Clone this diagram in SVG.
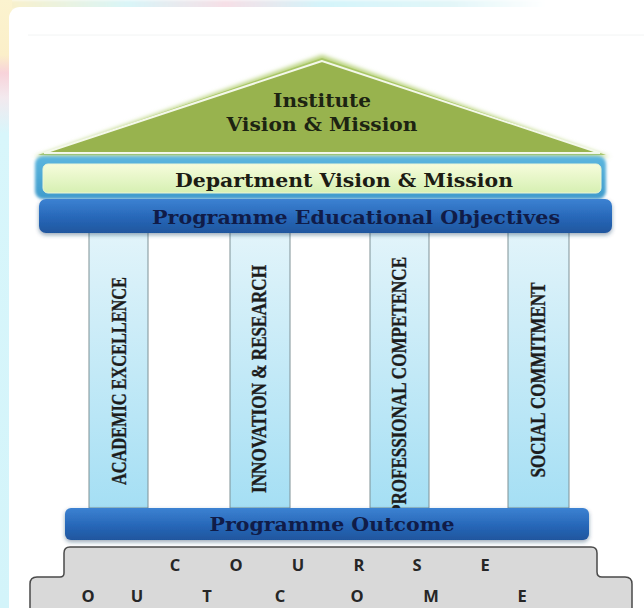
<svg xmlns="http://www.w3.org/2000/svg" width="644" height="608" viewBox="0 0 644 608">
<defs>
<style>
.serifb{font-family:"DejaVu Serif","Liberation Serif",serif;font-weight:bold;}
.pil{font-family:"Liberation Serif","DejaVu Serif",serif;font-weight:bold;font-size:20px;fill:#1c1c1c;stroke:#1c1c1c;stroke-width:0.35;}
.co{font-family:"Open Sans","Liberation Sans",sans-serif;font-weight:bold;font-size:16.5px;fill:#262626;text-anchor:middle;}
.pillar{fill:url(#pillarG);stroke:#7f9196;stroke-width:1;}
.bluebar{fill:url(#blueG);filter:url(#shadow);}
</style>
<linearGradient id="leftBg" x1="0" y1="0" x2="0" y2="1">
<stop offset="0" stop-color="#fbf3cf"/>
<stop offset="0.09" stop-color="#fbefc9"/>
<stop offset="0.12" stop-color="#f8d3da"/>
<stop offset="0.16" stop-color="#f3e9ee"/>
<stop offset="0.22" stop-color="#d8f6fb"/>
<stop offset="1" stop-color="#d3f4fa"/>
</linearGradient>
<linearGradient id="topBg" x1="0" y1="0" x2="1" y2="0">
<stop offset="0" stop-color="#fbf0c8"/>
<stop offset="0.2" stop-color="#d9f5f8"/>
<stop offset="0.35" stop-color="#f6dfe6"/>
<stop offset="0.5" stop-color="#d4f4fa"/>
<stop offset="0.7" stop-color="#e2f6f8"/>
<stop offset="0.85" stop-color="#ffffff"/>
<stop offset="1" stop-color="#ffffff"/>
</linearGradient>
<linearGradient id="lineG" x1="0" y1="0" x2="1" y2="0">
<stop offset="0" stop-color="#f6e3a4"/>
<stop offset="0.05" stop-color="#f6e3a4"/>
<stop offset="0.07" stop-color="#f4b8b8"/>
<stop offset="0.18" stop-color="#f4b8b8"/>
<stop offset="0.22" stop-color="#c8f0f8"/>
<stop offset="1" stop-color="#eef8fa"/>
</linearGradient>
<linearGradient id="pillarG" x1="0" y1="0" x2="0" y2="1">
<stop offset="0" stop-color="#e2f4fa"/>
<stop offset="1" stop-color="#a5dff4"/>
</linearGradient>
<linearGradient id="blueG" x1="0" y1="0" x2="0" y2="1">
<stop offset="0" stop-color="#3c82d2"/>
<stop offset="0.55" stop-color="#2767b8"/>
<stop offset="1" stop-color="#1f569e"/>
</linearGradient>
<linearGradient id="deptOuter" x1="0" y1="0" x2="0" y2="1">
<stop offset="0" stop-color="#5cb6de"/>
<stop offset="1" stop-color="#3f9bcc"/>
</linearGradient>
<linearGradient id="deptInner" x1="0" y1="0" x2="0" y2="1">
<stop offset="0" stop-color="#f6fcdc"/>
<stop offset="1" stop-color="#d6f0b2"/>
</linearGradient>
<filter id="shadow" x="-5%" y="-30%" width="110%" height="170%">
<feGaussianBlur in="SourceAlpha" stdDeviation="2"/>
<feOffset dy="2" result="b"/>
<feFlood flood-color="#1a3a60" flood-opacity="0.45"/>
<feComposite in2="b" operator="in"/>
<feMerge><feMergeNode/><feMergeNode in="SourceGraphic"/></feMerge>
</filter>
<filter id="glow" x="-10%" y="-20%" width="120%" height="140%">
<feGaussianBlur stdDeviation="2"/>
</filter>
<filter id="soft" x="-5%" y="-5%" width="110%" height="110%">
<feGaussianBlur stdDeviation="1.5"/>
</filter>
</defs>

<g id="background">
<rect x="0" y="0" width="644" height="608" fill="#ffffff"/>
<rect x="0" y="0" width="644" height="10" fill="url(#topBg)" filter="url(#soft)"/>
<rect x="0" y="0" width="12" height="608" fill="url(#leftBg)"/>
<rect x="9" y="7" width="660" height="620" rx="11" fill="#ffffff"/>
<line x1="28" y1="26" x2="644" y2="26" stroke="url(#lineG)" stroke-width="1.5"/>
<line x1="28" y1="35" x2="644" y2="35" stroke="#f2f4f4" stroke-width="1"/>
</g>

<g id="connectors"></g>

<g id="institute">
<polygon points="322,55 34,157 610,157" fill="#b8d27a" filter="url(#glow)"/>
<polygon points="322,58 38,155 606,155" fill="#a9c667"/>
<polygon points="322,61 44,153 600,153" fill="#98b34e" stroke="#f4f8ea" stroke-width="2"/>
<text class="serifb" x="322" y="107" font-size="19" text-anchor="middle" fill="#1d2412" textLength="98" lengthAdjust="spacingAndGlyphs">Institute</text>
<text class="serifb" x="322" y="131" font-size="19" text-anchor="middle" fill="#1d2412" textLength="191" lengthAdjust="spacingAndGlyphs">Vision &amp; Mission</text>
</g>

<g id="department">
<rect x="35" y="156" width="571" height="43" rx="8" fill="url(#deptOuter)" filter="url(#soft)"/>
<rect x="43" y="164" width="558" height="29" rx="5" fill="url(#deptInner)" stroke="#eaf6d6" stroke-width="1"/>
<text class="serifb" x="344" y="187" font-size="19" text-anchor="middle" fill="#1c1c14" textLength="338" lengthAdjust="spacingAndGlyphs">Department Vision &amp; Mission</text>
</g>

<g id="pillar-academic">
<rect class="pillar" x="89" y="232" width="59" height="276"/>
<text class="pil" transform="translate(126,381) rotate(-90)" x="0" y="0" text-anchor="middle" textLength="208" lengthAdjust="spacingAndGlyphs">ACADEMIC EXCELLENCE</text>
</g>
<g id="pillar-innovation">
<rect class="pillar" x="230" y="232" width="60" height="276"/>
<text class="pil" transform="translate(265.5,379) rotate(-90)" x="0" y="0" text-anchor="middle" textLength="228" lengthAdjust="spacingAndGlyphs">INNOVATION &amp; RESEARCH</text>
</g>
<g id="pillar-professional">
<rect class="pillar" x="370" y="232" width="59" height="276"/>
<text class="pil" transform="translate(405.5,386) rotate(-90)" x="0" y="0" text-anchor="middle" textLength="258" lengthAdjust="spacingAndGlyphs">PROFESSIONAL COMPETENCE</text>
</g>
<g id="pillar-social">
<rect class="pillar" x="508" y="232" width="61" height="276"/>
<text class="pil" transform="translate(545,380) rotate(-90)" x="0" y="0" text-anchor="middle" textLength="195" lengthAdjust="spacingAndGlyphs">SOCIAL COMMITMENT</text>
</g>

<g id="peo">
<rect class="bluebar" x="39" y="199" width="573" height="34" rx="7"/>
<text class="serifb" x="356" y="224" font-size="19" text-anchor="middle" fill="#101c48" textLength="408" lengthAdjust="spacingAndGlyphs">Programme Educational Objectives</text>
</g>

<g id="programme-outcome">
<rect class="bluebar" x="65" y="508" width="524" height="32" rx="6"/>
<text class="serifb" x="332" y="531" font-size="19" text-anchor="middle" fill="#101c48" textLength="245" lengthAdjust="spacingAndGlyphs">Programme Outcome</text>
</g>

<g id="course-outcome">
<path d="M30,614 V584 Q30,577 37,577 H60 Q64,577 64,573 V553 Q64,547 70,547 H591 Q597,547 597,553 V572 Q597,577 602,577 H625 Q632,577 632,584 V614 Z" fill="#d9d9d9" stroke="#4a4a4a" stroke-width="1.5"/>
<text class="co" x="175" y="571">C</text>
<text class="co" x="236" y="571">O</text>
<text class="co" x="298" y="571">U</text>
<text class="co" x="359" y="571">R</text>
<text class="co" x="417" y="571">S</text>
<text class="co" x="485" y="571">E</text>
<text class="co" x="88" y="602">O</text>
<text class="co" x="137" y="602">U</text>
<text class="co" x="207" y="602">T</text>
<text class="co" x="280" y="602">C</text>
<text class="co" x="357" y="602">O</text>
<text class="co" x="431" y="602">M</text>
<text class="co" x="522" y="602">E</text>
</g>
</svg>
